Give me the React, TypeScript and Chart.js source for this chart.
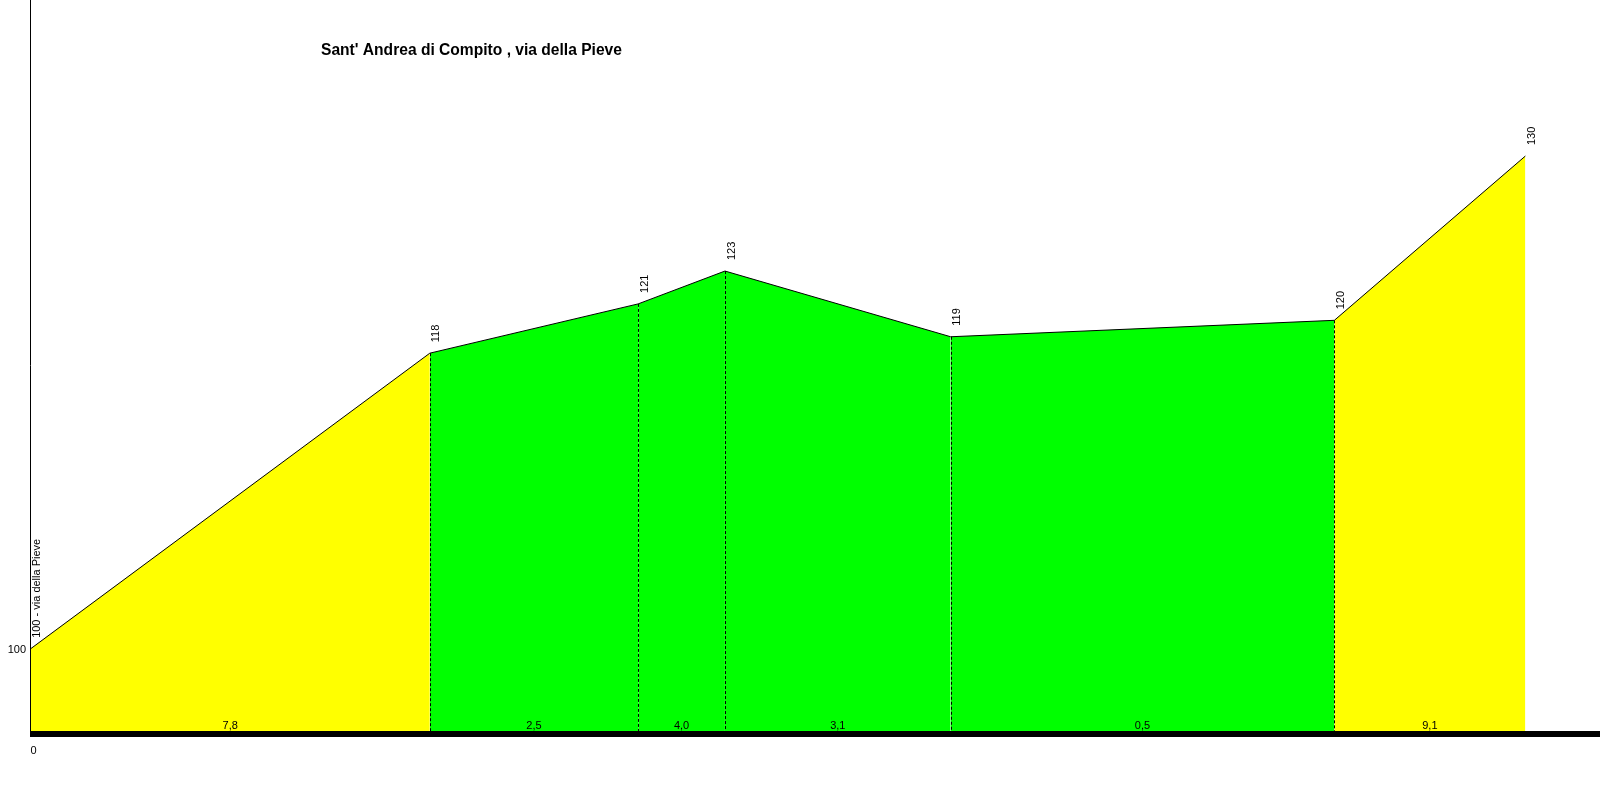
import React, { useEffect, useRef } from "react";
import { Chart, registerables } from "chart.js";

Chart.register(...registerables);

const title = "Sant' Andrea di Compito , via della Pieve";
const distances = [0, 230, 350, 400, 530, 751, 861];
const elevations = [100, 118, 121, 123, 119, 120, 130];
const pointLabels = ["100 - via della Pieve", "118", "121", "123", "119", "120", "130"];
const gradients = ["7,8", "2,5", "4,0", "3,1", "0,5", "9,1"];
const segmentColors = ["#FFFF00", "#00FF00", "#00FF00", "#00FF00", "#00FF00", "#FFFF00"];
const yTickLabels = [{ value: 100, text: "100" }];
const xTickLabels = [{ value: 0, text: "0" }];

const FONT = '"Liberation Sans", Arial, sans-serif';

const overlay = {
  id: "overlay",
  afterDatasetsDraw(chart: any) {
    const { ctx, chartArea, scales } = chart;
    const x = scales.x;
    const y = scales.y;
    ctx.save();
    // dashed verticals at interior points
    ctx.strokeStyle = "#000";
    ctx.lineWidth = 1;
    ctx.setLineDash([3, 2]);
    for (let i = 1; i < distances.length - 1; i++) {
      const px = Math.round(x.getPixelForValue(distances[i])) + 0.5;
      const py = y.getPixelForValue(elevations[i]);
      ctx.beginPath();
      ctx.moveTo(px, py);
      ctx.lineTo(px, chartArea.bottom);
      ctx.stroke();
    }
    ctx.setLineDash([]);
    // y axis line
    ctx.beginPath();
    ctx.moveTo(chartArea.left, 0);
    ctx.lineTo(chartArea.left, chartArea.bottom);
    ctx.stroke();
    // thick base bar
    ctx.fillStyle = "#000";
    ctx.fillRect(Math.floor(chartArea.left), chartArea.bottom, chart.width - Math.floor(chartArea.left), 6);

    // point labels (rotated)
    ctx.fillStyle = "#000";
    ctx.font = `11px ${FONT}`;
    for (let i = 0; i < distances.length; i++) {
      const px = x.getPixelForValue(distances[i]);
      const py = y.getPixelForValue(elevations[i]);
      ctx.save();
      ctx.translate(px + 1, py - 11);
      ctx.rotate(-Math.PI / 2);
      ctx.textAlign = "left";
      ctx.textBaseline = "top";
      ctx.fillText(pointLabels[i], 0, 0);
      ctx.restore();
    }
    // gradient labels
    ctx.textAlign = "center";
    ctx.textBaseline = "alphabetic";
    for (let i = 0; i < gradients.length; i++) {
      const mid = (x.getPixelForValue(distances[i]) + x.getPixelForValue(distances[i + 1])) / 2;
      ctx.fillText(gradients[i], mid, chartArea.bottom - 2.5);
    }
    // y tick labels
    ctx.textAlign = "right";
    for (const t of yTickLabels) {
      ctx.fillText(t.text, chartArea.left - 4.5, y.getPixelForValue(t.value) + 4.5);
    }
    // x tick labels
    ctx.textAlign = "left";
    for (const t of xTickLabels) {
      ctx.fillText(t.text, x.getPixelForValue(t.value), chartArea.bottom + 23);
    }
    // title
    ctx.font = `bold 15.6px ${FONT}`;
    ctx.textAlign = "left";
    ctx.fillText(title, 321, 55);
    ctx.restore();
  },
};

export default function App() {
  const ref = useRef<HTMLCanvasElement>(null);
  useEffect(() => {
    document.body.style.margin = "0";
    const datasets = gradients.map((_, i) => ({
      data: [
        { x: distances[i], y: elevations[i] },
        { x: distances[i + 1], y: elevations[i + 1] },
      ],
      borderColor: "#000000",
      borderWidth: 1,
      backgroundColor: segmentColors[i],
      fill: "start" as const,
      pointRadius: 0,
      tension: 0,
    }));
    const chart = new Chart(ref.current as HTMLCanvasElement, {
      type: "line",
      data: { datasets },
      options: {
        animation: false,
        responsive: false,
        events: [],
        layout: { padding: { left: 30.5, right: 0, top: 0, bottom: 69 } },
        plugins: { legend: { display: false }, tooltip: { enabled: false }, title: { display: false } },
        scales: {
          x: { type: "linear", min: 0, max: 904, display: false },
          y: { type: "linear", min: 95, max: 139.5, display: false },
        },
      },
      plugins: [overlay],
    });
    return () => chart.destroy();
  }, []);
  return <canvas ref={ref} width={1600} height={800} style={{ display: "block" }} />;
}
